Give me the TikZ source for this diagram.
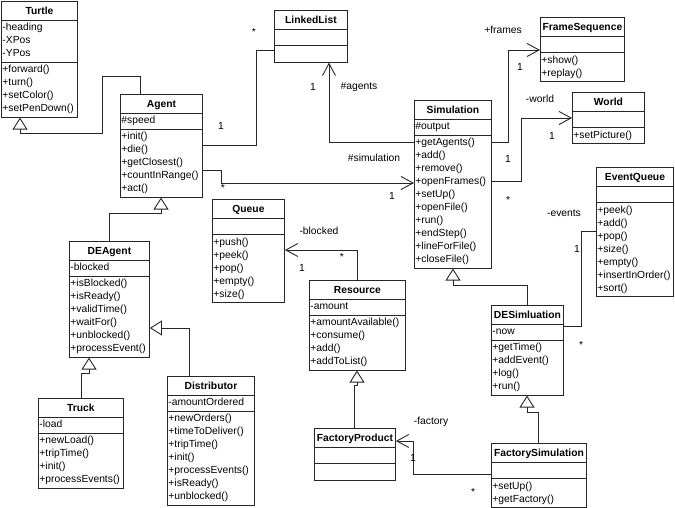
\documentclass[tikz,border=0pt]{standalone}
\usepackage{fontspec}
\setmainfont{Liberation Sans}
\usetikzlibrary{arrows.meta,positioning,calc,shapes.multipart}

\newcommand{\crows}[1]{\begin{tabular}{@{}l@{}}#1\end{tabular}}
\newcommand{\cname}[1]{\rule[-4.5pt]{0pt}{16pt}\textbf{#1}}

\begin{document}
\begin{tikzpicture}[x=1pt,y=-1pt,
    umlclass/.style={rectangle split, rectangle split parts=3,
      rectangle split part align={center,left,left},
      rectangle split empty part height=9.6pt,
      rectangle split empty part depth=3.9pt,
      draw=black!85, line width=0.9pt, fill=white, anchor=north west,
      inner xsep=1pt, inner ysep=1pt, font=\fontsize{10.3}{13}\selectfont},
    gen/.style={draw=black!85, line width=0.9pt,
      -{Triangle[open,length=12pt,width=15pt]}},
    assoc/.style={draw=black!85, line width=0.9pt},
    nav/.style={assoc, -{Straight Barb[length=12pt,width=13pt]}},
    lbl/.style={font=\fontsize{10.3}{13}\selectfont, inner sep=0pt}]
  \useasboundingbox (0,0) rectangle (675,508);

  % classes
  \node[umlclass, minimum width=76pt] (turtle) at (1,1)
    {\cname{Turtle}
     \nodepart{second}\crows{-heading\\-XPos\\-YPos}
     \nodepart{third}\crows{+forward()\\+turn()\\+setColor()\\+setPenDown()}};
  \node[umlclass, minimum width=82pt] (agent) at (120,94)
    {\cname{Agent}
     \nodepart{second}\crows{\#speed}
     \nodepart{third}\crows{+init()\\+die()\\+getClosest()\\+countInRange()\\+act()}};
  \node[umlclass, minimum width=73pt] (linkedlist) at (274,10)
    {\cname{LinkedList}
     \nodepart{second}
     \nodepart{third}};
  \node[umlclass, minimum width=77pt] (simulation) at (414,100)
    {\cname{Simulation}
     \nodepart{second}\crows{\#output}
     \nodepart{third}\crows{+getAgents()\\+add()\\+remove()\\+openFrames()\\+setUp()\\
       +openFile()\\+run()\\+endStep()\\+lineForFile()\\+closeFile()}};
  \node[umlclass, minimum width=84pt] (framesequence) at (540,17)
    {\cname{FrameSequence}
     \nodepart{second}
     \nodepart{third}\crows{+show()\\+replay()}};
  \node[umlclass, minimum width=72pt] (world) at (572,92)
    {\cname{World}
     \nodepart{second}
     \nodepart{third}\crows{+setPicture()}};
  \node[umlclass, minimum width=77pt] (eventqueue) at (596,167)
    {\cname{EventQueue}
     \nodepart{second}
     \nodepart{third}\crows{+peek()\\+add()\\+pop()\\+size()\\+empty()\\+insertInOrder()\\+sort()}};
  \node[umlclass, minimum width=72pt] (queue) at (212,199)
    {\cname{Queue}
     \nodepart{second}
     \nodepart{third}\crows{+push()\\+peek()\\+pop()\\+empty()\\+size()}};
  \node[umlclass, minimum width=96pt] (resource) at (309,280)
    {\cname{Resource}
     \nodepart{second}\crows{-amount}
     \nodepart{third}\crows{+amountAvailable()\\+consume()\\+add()\\+addToList()}};
  \node[umlclass, minimum width=80pt] (deagent) at (69,241)
    {\cname{DEAgent}
     \nodepart{second}\crows{-blocked}
     \nodepart{third}\crows{+isBlocked()\\+isReady()\\+validTime()\\+waitFor()\\
       +unblocked()\\+processEvent()}};
  \node[umlclass, minimum width=85pt] (truck) at (38,398)
    {\cname{Truck}
     \nodepart{second}\crows{-load}
     \nodepart{third}\crows{+newLoad()\\+tripTime()\\+init()\\+processEvents()}};
  \node[umlclass, minimum width=87pt] (distributor) at (167,376)
    {\cname{Distributor}
     \nodepart{second}\crows{-amountOrdered}
     \nodepart{third}\crows{+newOrders()\\+timeToDeliver()\\+tripTime()\\+init()\\
       +processEvents()\\+isReady()\\+unblocked()}};
  \node[umlclass, minimum width=72pt] (desim) at (491,305)
    {\cname{DESimluation}
     \nodepart{second}\crows{-now}
     \nodepart{third}\crows{+getTime()\\+addEvent()\\+log()\\+run()}};
  \node[umlclass, minimum width=81pt] (factoryproduct) at (314,428)
    {\cname{FactoryProduct}
     \nodepart{second}
     \nodepart{third}};
  \node[umlclass, minimum width=95pt] (factorysim) at (491,443)
    {\cname{FactorySimulation}
     \nodepart{second}
     \nodepart{third}\crows{+setUp()\\+getFactory()}};

  % generalizations
  \draw[gen] ($(agent.north west)+(20,0)$) -- ++(0,-18) -- ++(-38,0) -- ++(0,57)
    -| ($(turtle.south west)+(19,0)$);
  \draw[gen] ($(deagent.north west)+(40,0)$) -- ++(0,-28) -| ($(agent.south west)+(41,0)$);
  \draw[gen] ($(truck.north west)+(43,0)$) -- ++(0,-25) -| ($(deagent.south west)+(20,0)$);
  \draw[gen] ($(distributor.north west)+(22,0)$) |- ($(deagent.north east)+(0,87)$);
  \draw[gen] ($(factoryproduct.north west)+(40,0)$) -- ++(0,-43)
    -| ($(resource.south west)+(48,0)$);
  \draw[gen] ($(desim.north west)+(36,0)$) -- ++(0,-20) -| ($(simulation.south west)+(39,0)$);
  \draw[gen] ($(factorysim.north west)+(47,0)$) -- ++(0,-31) -| ($(desim.south west)+(36,0)$);

  % associations
  \draw[assoc] ($(agent.north east)+(0,51)$) -- ++(54,0) |- ($(linkedlist.south west)+(0,-12)$);
  \draw[nav] ($(simulation.north west)+(0,42)$) -| ($(linkedlist.south west)+(55,0)$);
  \draw[nav] ($(agent.north east)+(0,76)$) -- ++(19,0) |- ($(simulation.north west)+(0,83)$);
  \draw[nav] ($(simulation.north east)+(0,42)$) -- ++(17,0) |- ($(framesequence.north west)+(0,33)$);
  \draw[nav] ($(simulation.north east)+(0,81)$) -- ++(30,0) |- ($(world.north west)+(0,26)$);
  \draw[assoc] ($(desim.north east)+(0,21)$) -- ++(18,0) |- ($(eventqueue.north west)+(0,64)$);
  \draw[nav] ($(resource.north west)+(48,0)$) |- ($(queue.north east)+(0,51)$);
  \draw[nav] ($(factorysim.north west)+(0,31)$) -- ++(-78,0) |- ($(factoryproduct.north east)+(0,13)$);

  % roles and multiplicities
  \node[lbl] (m-ag-ll) at (221,126) {1};
  \node[lbl] (m-ll-ag) at (254,32) {*};
  \node[lbl] (m-ll-sim) at (313,87) {1};
  \node[lbl] (r-agents) at (359,87) {\#agents};
  \node[lbl] (r-simulation) at (374,158) {\#simulation};
  \node[lbl] (m-ag-sim) at (223,188) {*};
  \node[lbl] (m-sim-ag) at (392,196) {1};
  \node[lbl] (r-frames) at (503,30) {+frames};
  \node[lbl] (m-frames) at (520,67) {1};
  \node[lbl] (r-world) at (540,99) {-world};
  \node[lbl] (m-world) at (552,136) {1};
  \node[lbl] (m-sim-w) at (508,159) {1};
  \node[lbl] (m-sim-s) at (508,200) {*};
  \node[lbl] (r-events) at (564,213) {-events};
  \node[lbl] (m-events) at (577,249) {1};
  \node[lbl] (m-desim) at (581,345) {*};
  \node[lbl] (r-blocked) at (319,231) {-blocked};
  \node[lbl] (m-blocked) at (302,268) {1};
  \node[lbl] (m-res) at (342,257) {*};
  \node[lbl] (r-factory) at (431,422) {-factory};
  \node[lbl] (m-factory) at (413,458) {1};
  \node[lbl] (m-fsim) at (473,492) {*};
\end{tikzpicture}
\end{document}
